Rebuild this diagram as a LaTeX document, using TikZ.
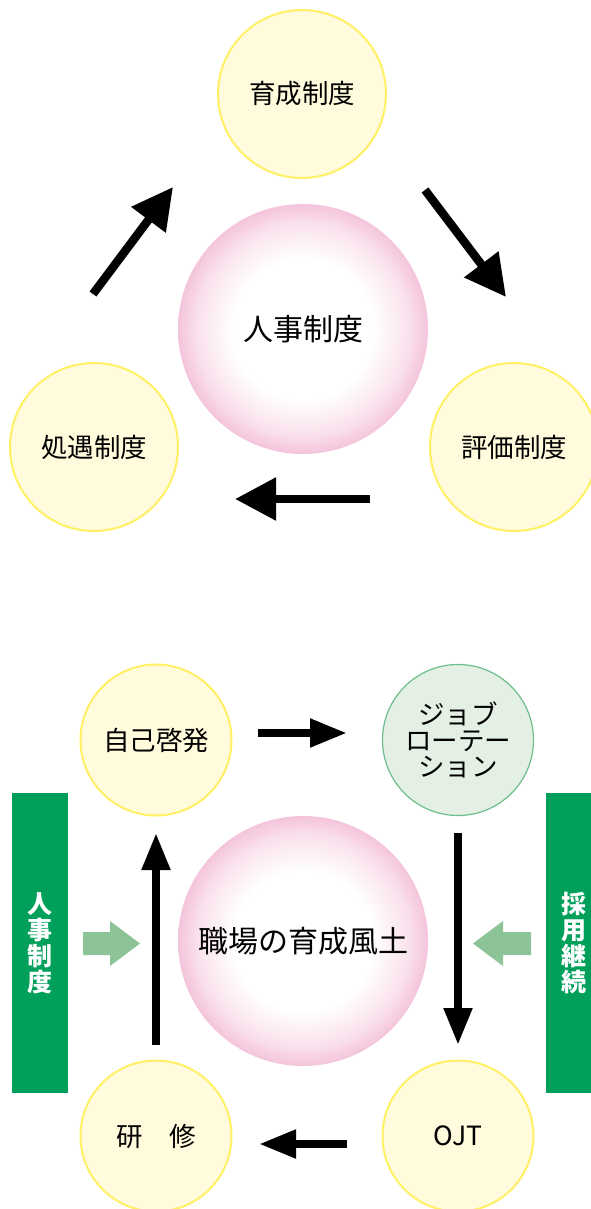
\documentclass[tikz,border=0pt]{standalone}
\usepackage{fontspec}
\setmainfont{Noto Sans CJK JP}
\usetikzlibrary{arrows.meta}
\definecolor{ylfill}{RGB}{255,251,220}
\definecolor{ylline}{RGB}{255,240,100}
\definecolor{grfill}{RGB}{228,240,228}
\definecolor{grline}{RGB}{110,190,140}
\definecolor{barcol}{RGB}{0,160,90}
\definecolor{blockarr}{RGB}{141,196,151}
\definecolor{pinkedge}{RGB}{244,196,219}
\definecolor{pinkmid}{RGB}{250,226,237}
\pgfdeclareradialshading{pinkball}{\pgfpoint{0bp}{0bp}}{color(0bp)=(white); color(14bp)=(white); color(21bp)=(pinkmid); color(25bp)=(pinkedge); color(50bp)=(pinkedge)}
\tikzset{
  ycirc/.style={circle, draw=ylline, line width=2pt, fill=ylfill, minimum size=#1, inner sep=0pt, align=center, font=\fontsize{26.5}{26}\selectfont},
  gcirc/.style={circle, draw=grline, line width=1.2pt, fill=grfill, minimum size=#1, inner sep=0pt, align=center, font=\fontsize{26.5}{26}\selectfont},
  pball/.style={circle, shading=pinkball, minimum size=250pt, inner sep=0pt, font=\fontsize{30}{32}\selectfont},
  bigarrow/.style={line width=8.5pt, -{Triangle[length=41pt,width=41pt]}},
  smallarrow/.style={line width=8pt, -{Triangle[length=37pt,width=27pt]}},
  bar/.style={fill=barcol, draw=none, minimum width=56pt, minimum height=300pt, inner sep=0pt, text=white, align=center, font=\bfseries\fontsize{25}{26}\selectfont},
  blockarrow/.style={fill=blockarr, draw=none}
}
\begin{document}
\begin{tikzpicture}[x=1pt,y=-1pt]
\useasboundingbox (0,0) rectangle (591,1209);
% ---------- top cycle ----------
\node[pball] (jinji) at (303,329) {人事制度};
\node[ycirc=168pt] (ikusei) at (302,94) {育成制度};
\node[ycirc=168pt] (hyoka) at (514,447) {評価制度};
\node[ycirc=168pt] (shogu) at (94,447) {処遇制度};
\coordinate (a1s) at (93,294);
\coordinate (a1e) at (173,187);
\coordinate (a2s) at (425,190);
\coordinate (a2e) at (506,297);
\coordinate (a3s) at (370,499);
\coordinate (a3e) at (235,499);
\draw[bigarrow] (a1s) -- (a1e);
\draw[bigarrow] (a2s) -- (a2e);
\draw[bigarrow] (a3s) -- (a3e);
% ---------- bottom cycle ----------
\node[pball] (fudo) at (303,941) {職場の育成風土};
\node[ycirc=151pt] (jiko) at (156,740) {自己啓発};
\node[gcirc=151pt] (job) at (458,740) {ジョブ\\ローテー\\ション};
\node[ycirc=151pt] (kenshu) at (156,1136) {研　修};
\node[ycirc=151pt] (ojt) at (458,1136) {OJT};
\coordinate (b1s) at (258,733);
\coordinate (b1e) at (347,733);
\coordinate (b2s) at (458,833);
\coordinate (b2e) at (458,1045);
\coordinate (b3s) at (347,1144);
\coordinate (b3e) at (259,1144);
\coordinate (b4s) at (156,1045);
\coordinate (b4e) at (156,833);
\draw[smallarrow] (b1s) -- (b1e);
\draw[smallarrow] (b2s) -- (b2e);
\draw[smallarrow] (b3s) -- (b3e);
\draw[smallarrow] (b4s) -- (b4e);
% ---------- side bars ----------
\node[bar] (barL) at (40,943) {人\\事\\制\\度};
\node[bar] (barR) at (574,943) {採\\用\\継\\続};
\fill[blockarrow] (83,932) -- (110,932) -- (110,921) -- (140,943.5) -- (110,966) -- (110,955) -- (83,955) -- cycle;
\fill[blockarrow] (531,932) -- (503,932) -- (503,921) -- (473,943.5) -- (503,966) -- (503,955) -- (531,955) -- cycle;
\end{tikzpicture}
\end{document}
